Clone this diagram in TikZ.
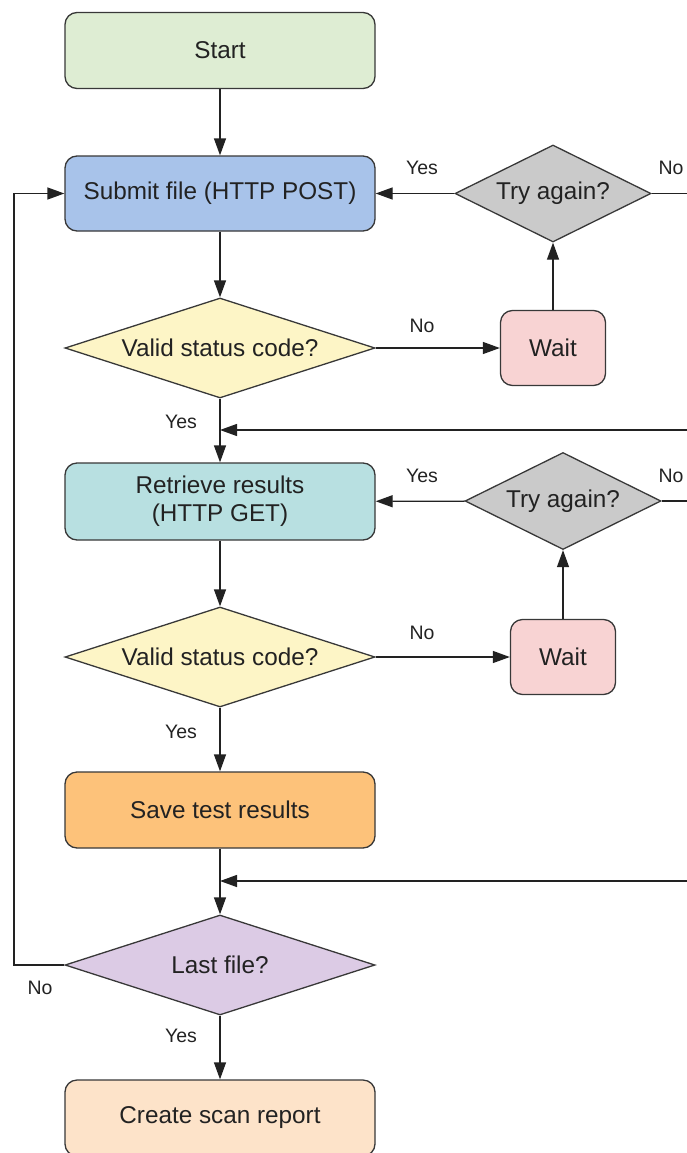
\documentclass[tikz,border=0pt]{standalone}
\usepackage{fontspec}
\setmainfont{Liberation Sans}
\usetikzlibrary{arrows.meta,positioning,calc,shapes.geometric}

\definecolor{startgreen}{HTML}{DEEDD3}
\definecolor{postblue}{HTML}{A8C3EA}
\definecolor{checkyellow}{HTML}{FDF5C6}
\definecolor{waitpink}{HTML}{F8D3D3}
\definecolor{retrygray}{HTML}{CACACA}
\definecolor{getcyan}{HTML}{B8E0E1}
\definecolor{saveorange}{HTML}{FDC27A}
\definecolor{lastlilac}{HTML}{DCCBE5}
\definecolor{reportpeach}{HTML}{FDE3C9}
\definecolor{ink}{HTML}{222222}

\begin{document}
\begin{tikzpicture}[x=1pt, y=-1pt, >={Triangle[length=17pt,width=12pt]},
    box/.style={draw=ink!90, line width=1.3pt, rounded corners=12pt, text=ink,
      minimum width=310pt, minimum height=76pt, inner sep=0pt, align=center,
      font=\fontsize{24.3}{28}\selectfont},
    waitbox/.style={box, fill=waitpink, minimum width=105pt, minimum height=75pt},
    decision/.style={draw=ink!90, line width=1.3pt, diamond, aspect=3.1, text=ink,
      minimum width=310pt, minimum height=100pt, inner sep=0pt,
      font=\fontsize{24.3}{28}\selectfont},
    retry/.style={decision, fill=retrygray, aspect=2, minimum width=196pt, minimum height=97pt},
    lbl/.style={text=ink, font=\fontsize{19.5}{22}\selectfont},
    flow/.style={line width=1.3pt, draw=ink}]
  \useasboundingbox (0,0) rectangle (686,1153);

  % main column
  \node[box, fill=startgreen] (start) at (220,50.5) {Start};
  \node[box, fill=postblue, minimum height=75pt] (submit) at (220,193.5) {Submit file (HTTP POST)};
  \node[decision, fill=checkyellow] (valid1) at (220,348) {Valid status code?};
  \node[box, fill=getcyan, minimum height=77pt] (retrieve) at (220,501.5) {Retrieve results\\(HTTP GET)};
  \node[decision, fill=checkyellow] (valid2) at (220,657) {Valid status code?};
  \node[box, fill=saveorange] (save) at (220,810) {Save test results};
  \node[decision, fill=lastlilac] (last) at (220,965) {Last file?};
  \node[box, fill=reportpeach] (report) at (220,1118) {Create scan report};

  % retry loops
  \node[waitbox] (wait1) at (553,348) {Wait};
  \node[retry] (try1) at (553,193.5) {Try again?};
  \node[waitbox] (wait2) at (563,657) {Wait};
  \node[retry] (try2) at (563,501) {Try again?};

  % ends running off the right edge
  \coordinate (off1) at (690,193.5);
  \coordinate (off2) at (690,501);
  \coordinate (back1) at (690,430);
  \coordinate (join1) at (220,430);
  \coordinate (back2) at (690,881);
  \coordinate (join2) at (220,881);
  \coordinate (loopbot) at (14,965);
  \coordinate (looptop) at (14,193.5);

  \draw[flow, ->] (start) -- (submit);
  \draw[flow, ->] (submit) -- (valid1);
  \draw[flow, ->] (valid1) -- (wait1);
  \draw[flow, ->] (wait1) -- (try1);
  \draw[flow, ->] (try1) -- (submit);
  \draw[flow] (try1) -- (off1);
  \draw[flow, ->] (valid1) -- (retrieve);
  \draw[flow, ->] (back1) -- (join1);
  \draw[flow, ->] (retrieve) -- (valid2);
  \draw[flow, ->] (valid2) -- (wait2);
  \draw[flow, ->] (wait2) -- (try2);
  \draw[flow, ->] (try2) -- (retrieve);
  \draw[flow] (try2) -- (off2);
  \draw[flow, ->] (valid2) -- (save);
  \draw[flow, ->] (save) -- (last);
  \draw[flow, ->] (back2) -- (join2);
  \draw[flow, ->] (last.west) -- (loopbot) -- (looptop) -- (submit.west);
  \draw[flow, ->] (last) -- (report);

  % branch labels
  \node[lbl] (yes1) at (422,168) {Yes};
  \node[lbl] (no1) at (671,168) {No};
  \node[lbl] (no2) at (422,326) {No};
  \node[lbl] (yes2) at (181,422) {Yes};
  \node[lbl] (yes3) at (422,476) {Yes};
  \node[lbl] (no3) at (671,476) {No};
  \node[lbl] (no4) at (422,633) {No};
  \node[lbl] (yes4) at (181,732) {Yes};
  \node[lbl] (no5) at (40,988) {No};
  \node[lbl] (yes5) at (181,1036) {Yes};
\end{tikzpicture}
\end{document}
